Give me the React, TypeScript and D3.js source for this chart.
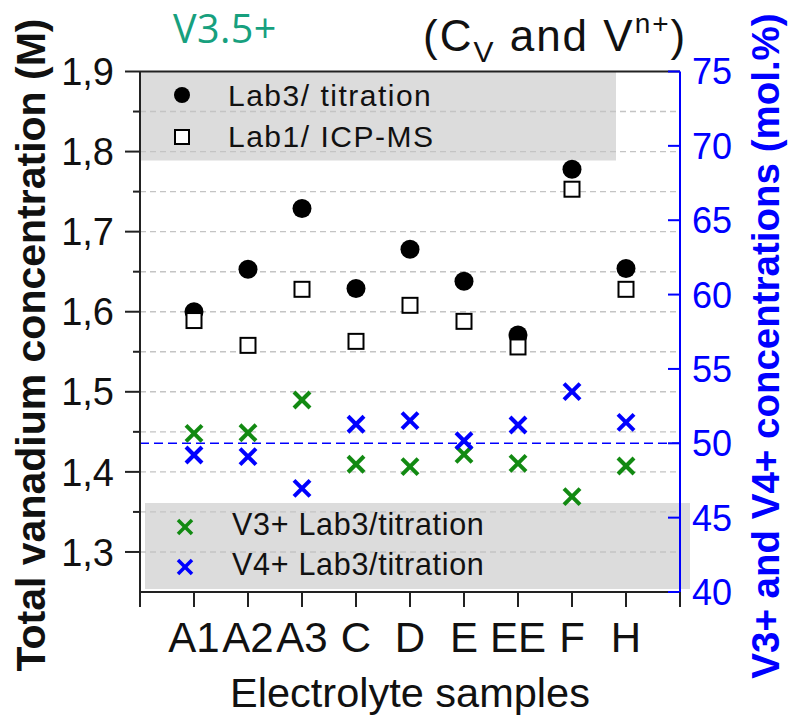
import React from "react";
import * as d3 from "d3";

const categories = ["A1", "A2", "A3", "C", "D", "E", "EE", "F", "H"];
const lab3Titration = [1.6, 1.653, 1.729, 1.629, 1.678, 1.638, 1.571, 1.778, 1.654];
const lab1IcpMs = [1.589, 1.558, 1.628, 1.563, 1.608, 1.588, 1.556, 1.753, 1.628];
const v3Lab3 = [50.67, 50.71, 52.91, 48.59, 48.43, 49.26, 48.65, 46.41, 48.47];
const v4Lab3 = [49.21, 49.1, 46.97, 51.28, 51.52, 50.17, 51.23, 53.47, 51.41];
const leftTicks = [1.3, 1.4, 1.5, 1.6, 1.7, 1.8, 1.9];
const leftMinor = [1.35, 1.45, 1.55, 1.65, 1.75, 1.85];
const gridValues = [1.3, 1.35, 1.4, 1.45, 1.5, 1.55, 1.6, 1.65, 1.7, 1.75, 1.8, 1.85];
const rightTicks = [40, 45, 50, 55, 60, 65, 70, 75];
const refLine = 50;

const FONT = "Liberation Sans";
const GREEN = "#128a12";
const BLUE = "#0000ff";

const L = 140, R = 680, T = 71.5, B = 592;

const x = d3.scaleLinear().domain([0, 10]).range([L, R]);
const yL = d3.scaleLinear().domain([1.25, 1.9]).range([B, T]);
const yR = d3.scaleLinear().domain([40, 75]).range([B, T]);

function Cross({ cx, cy, s, color, w }: { cx: number; cy: number; s: number; color: string; w: number }) {
  return (
    <g stroke={color} strokeWidth={w} strokeLinecap="butt">
      <line x1={cx - s} y1={cy - s} x2={cx + s} y2={cy + s} />
      <line x1={cx - s} y1={cy + s} x2={cx + s} y2={cy - s} />
    </g>
  );
}

export default function App() {
  const xTicks = d3.range(0, 11);
  const tf = { fontFamily: FONT };
  return (
    <svg width={790} height={715} style={{ position: "absolute", left: 0, top: 0, background: "#fff", fontFamily: FONT }}>
      {/* legend boxes */}
      <rect x={L} y={T} width={476} height={89} fill="#dcdcdc" />
      <rect x={145} y={503} width={545} height={86} fill="#dcdcdc" />
      {/* grid */}
      {gridValues.map((v) => (
        <line key={"g" + v} x1={L} x2={R} y1={yL(v)} y2={yL(v)} stroke="#c4c4c4" strokeWidth={1.4} strokeDasharray="6,4" />
      ))}
      {/* 50% reference line */}
      <line x1={L} x2={R} y1={yR(refLine)} y2={yR(refLine)} stroke={BLUE} strokeWidth={1.6} strokeDasharray="9,5" />

      {/* axes */}
      <line x1={L} x2={R} y1={T} y2={T} stroke="#222" strokeWidth={2} />
      <line x1={L} x2={R} y1={B} y2={B} stroke="#222" strokeWidth={2} />
      <line x1={L} x2={L} y1={T} y2={B} stroke="#222" strokeWidth={2} />
      <line x1={R} x2={R} y1={T} y2={B} stroke={BLUE} strokeWidth={2} />
      {leftTicks.map((v) => (
        <g key={"lt" + v}>
          <line x1={L - 15} x2={L} y1={yL(v)} y2={yL(v)} stroke="#222" strokeWidth={2} />
          <text style={tf} x={114} y={yL(v)} dy="0.36em" textAnchor="end" fontSize={38} fill="#111">
            {d3.format(".1f")(v).replace(".", ",")}
          </text>
        </g>
      ))}
      {leftMinor.map((v) => (
        <line key={"lm" + v} x1={L - 7} x2={L} y1={yL(v)} y2={yL(v)} stroke="#222" strokeWidth={2} />
      ))}
      {rightTicks.map((v) => (
        <g key={"rt" + v}>
          <line x1={R - 12} x2={R} y1={yR(v)} y2={yR(v)} stroke={BLUE} strokeWidth={2} />
          <text style={tf} x={692} y={yR(v)} dy="0.36em" textAnchor="start" fontSize={36} fill={BLUE}>
            {v}
          </text>
        </g>
      ))}
      {xTicks.map((t) => (
        <line key={"xt" + t} x1={x(t)} x2={x(t)} y1={B} y2={B + 15} stroke="#222" strokeWidth={2} />
      ))}
      {categories.map((c, i) => (
        <text style={tf} key={"xl" + c} x={x(i + 1)} y={652} textAnchor="middle" fontSize={42} fill="#111">
          {c}
        </text>
      ))}

      {/* axis titles */}
      <text style={tf} x={410} y={707} textAnchor="middle" fontSize={41.5} fill="#111">Electrolyte samples</text>
      <text style={tf} transform="translate(45,345) rotate(-90)" textAnchor="middle" fontSize={41} fontWeight="bold" fill="#111">
        Total vanadium concentration (M)
      </text>
      <text style={tf} transform="translate(779,346) rotate(-90)" textAnchor="middle" fontSize={38.5} fontWeight="bold" fill={BLUE}>
        V3+ and V4+ concentrations (mol.%)
      </text>

      {/* titles */}
      <text x={173} y={43} fontSize={39.5} fill="#17a07e" letterSpacing={0.4} style={{ fontFamily: "Open Sans" }}>V3.5+</text>
      <text style={tf} x={423} y={51} fontSize={44} fill="#111" letterSpacing={2}>
        (C<tspan fontSize={30} dy={11}>V</tspan>
        <tspan dy={-11}> and V</tspan>
        <tspan fontSize={28} dy={-18}>n+</tspan>
        <tspan dy={18}>)</tspan>
      </text>

      {/* data */}
      {lab3Titration.map((v, i) => (
        <circle key={"d" + i} cx={x(i + 1)} cy={yL(v)} r={9.5} fill="#000" />
      ))}
      {lab1IcpMs.map((v, i) => (
        <rect key={"s" + i} x={x(i + 1) - 7.5} y={yL(v) - 7.5} width={15} height={15} fill="#fff" stroke="#000" strokeWidth={2} />
      ))}
      {v3Lab3.map((v, i) => (
        <Cross key={"g3" + i} cx={x(i + 1)} cy={yR(v)} s={8} color={GREEN} w={4} />
      ))}
      {v4Lab3.map((v, i) => (
        <Cross key={"b4" + i} cx={x(i + 1)} cy={yR(v)} s={8} color={BLUE} w={4} />
      ))}

      {/* legend 1 */}
      <circle cx={182} cy={95} r={8} fill="#000" />
      <text style={tf} x={228} y={106} fontSize={30} letterSpacing={1.5} fill="#111">Lab3/ titration</text>
      <rect x={175} y={130} width={14} height={14} fill="#fff" stroke="#000" strokeWidth={2} />
      <text style={tf} x={228} y={147} fontSize={30} letterSpacing={1.5} fill="#111">Lab1/ ICP-MS</text>

      {/* legend 2 */}
      <Cross cx={185} cy={527} s={7} color={GREEN} w={3.5} />
      <text style={tf} x={232} y={535} fontSize={30.5} letterSpacing={0.7} fill="#111">V3+ Lab3/titration</text>
      <Cross cx={185} cy={567} s={7} color={BLUE} w={3.5} />
      <text style={tf} x={232} y={575} fontSize={30.5} letterSpacing={0.7} fill="#111">V4+ Lab3/titration</text>
    </svg>
  );
}
